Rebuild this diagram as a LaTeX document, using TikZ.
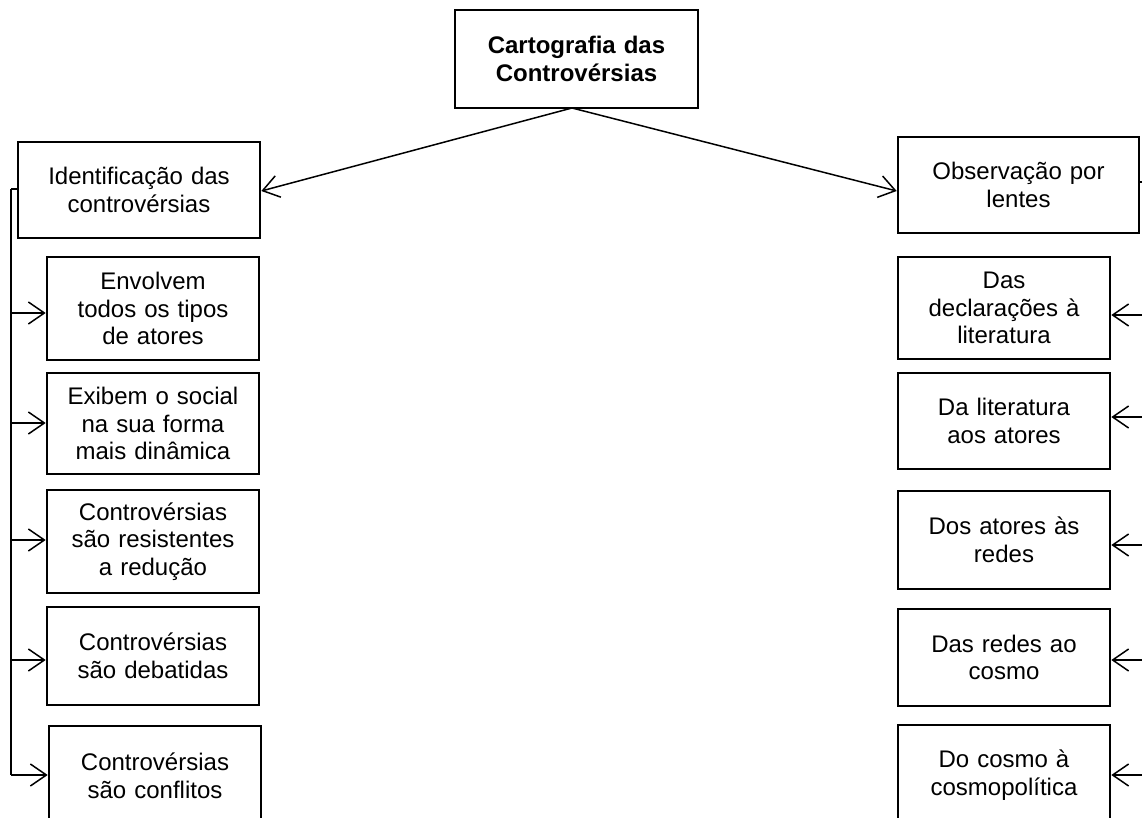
\documentclass[tikz,border=0pt]{standalone}
\usepackage{fontspec}
\setmainfont{Liberation Sans}
\usetikzlibrary{arrows.meta}
\begin{document}
\begin{tikzpicture}[x=1pt,y=-1pt,
  box/.style={draw,line width=2.6pt,inner sep=0pt,align=center,
    font=\fontsize{24}{27.5}\selectfont,text width=#1},
  box/.default=205pt,
  conn/.style={line width=1.5pt},
  arr/.style={conn,-{Straight Barb[length=16pt,width=22pt,line width=1.5pt]}}]
\useasboundingbox (0,0) rectangle (1142,818);
\clip (0,0) rectangle (1142,818);
% top
\node[box=235pt,minimum width=243pt,minimum height=98pt,font=\fontsize{24}{27.5}\selectfont\bfseries] (top) at (576.5,59) {Cartografia das\\Controvérsias};
% left column
\node[box=235pt,minimum width=242pt,minimum height=96pt] (L0) at (139,190) {Identificação das\\controvérsias};
\node[box,minimum width=212pt,minimum height=103pt] (L1) at (153,308.5) {Envolvem\\todos os tipos\\de atores};
\node[box,minimum width=212pt,minimum height=101pt] (L2) at (153,423.5) {Exibem o social\\na sua forma\\mais dinâmica};
\node[box,minimum width=212pt,minimum height=103pt] (L3) at (153,541.5) {Controvérsias\\são resistentes\\a redução};
\node[box,minimum width=212pt,minimum height=98pt] (L4) at (153,656) {Controvérsias\\são debatidas};
\node[box,minimum width=212pt,minimum height=100pt] (L5) at (155,776) {Controvérsias\\são conflitos};
% right column
\node[box=235pt,minimum width=241pt,minimum height=96pt] (R0) at (1018.5,185) {Observação por\\lentes};
\node[box,minimum width=212pt,minimum height=102pt] (R1) at (1004,308) {Das\\declarações à\\literatura};
\node[box,minimum width=212pt,minimum height=96pt] (R2) at (1004,421) {Da literatura\\aos atores};
\node[box,minimum width=212pt,minimum height=98pt] (R3) at (1004,540) {Dos atores às\\redes};
\node[box,minimum width=212pt,minimum height=97pt] (R4) at (1004,657.5) {Das redes ao\\cosmo};
\node[box,minimum width=212pt,minimum height=100pt] (R5) at (1004,775) {Do cosmo à\\cosmopolítica};
% top arrows
\coordinate (apex) at (572,108);
\draw[arr] (apex) -- (L0.east|-0,191);
\draw[arr] (apex) -- (R0.west|-0,191);
% left trunk
\coordinate (lt0) at (11,189);
\coordinate (lt1) at (11,313);
\coordinate (lt2) at (11,423);
\coordinate (lt3) at (11,540);
\coordinate (lt4) at (11,660);
\coordinate (lt5) at (11,775);
\draw[line width=2.4pt] (lt0) -- (lt5);
\draw[conn] (lt0) -- (lt0-|L0.west);
\foreach \i in {1,...,5}{\draw[arr] (lt\i) -- (lt\i-|L\i.west);}
% right trunk
\coordinate (rt0) at (1143,182);
\coordinate (rt1) at (1143,315);
\coordinate (rt2) at (1143,417);
\coordinate (rt3) at (1143,545);
\coordinate (rt4) at (1143,660);
\coordinate (rt5) at (1143,775);
\draw[line width=2.4pt] (rt0) -- (rt5);
\draw[conn] (rt0) -- (rt0-|R0.east);
\foreach \i in {1,...,5}{\draw[arr] (rt\i) -- (rt\i-|R\i.east);}
\end{tikzpicture}
\end{document}
